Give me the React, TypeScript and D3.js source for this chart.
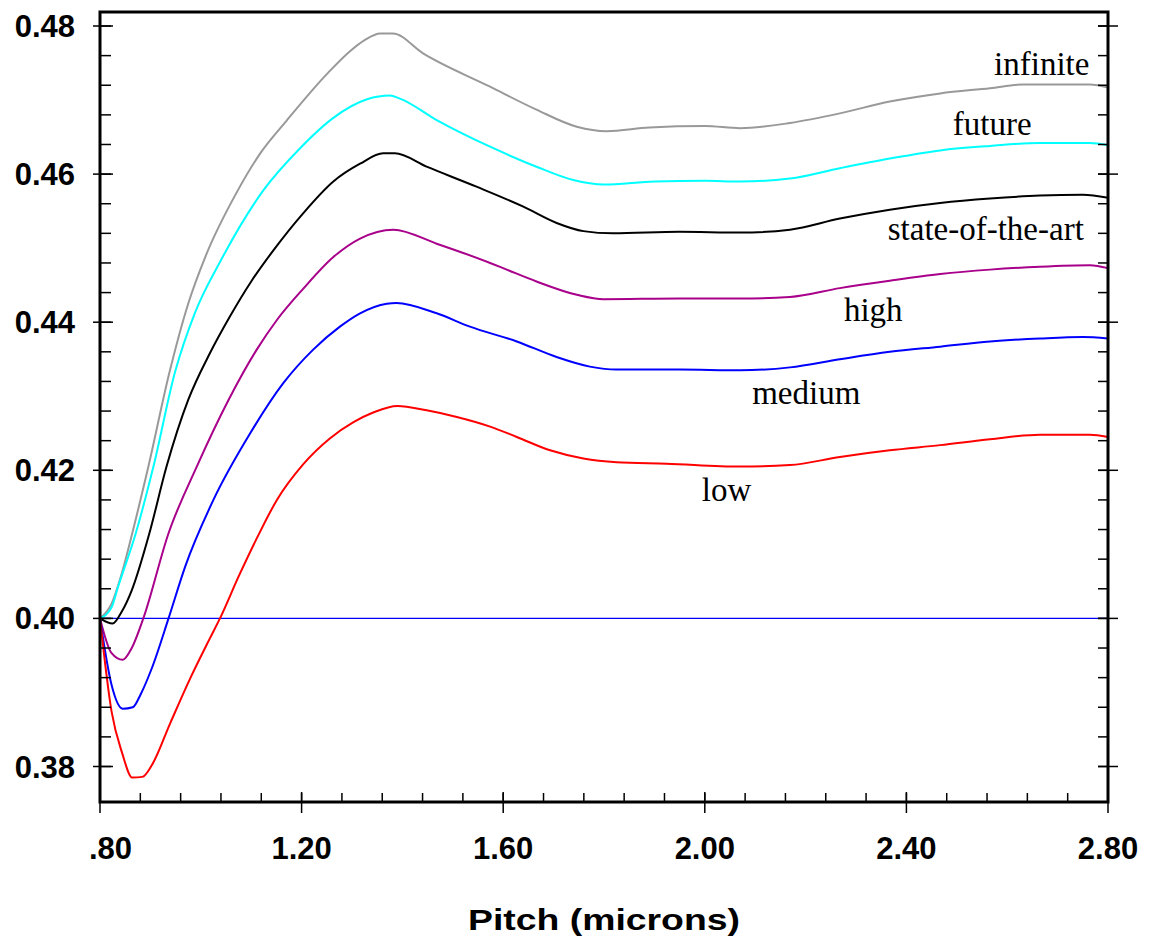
import React from "react";
import * as d3 from "d3";

type Pt = [number, number];

const infinite: Pt[] = [
  [0.8, 0.4], [0.823, 0.402], [0.845, 0.4065], [0.864, 0.4115], [0.896, 0.4205], [0.937, 0.433],
  [0.975, 0.4425], [1.01, 0.449], [1.071, 0.4575], [1.12, 0.463], [1.17, 0.4672], [1.25, 0.4735],
  [1.296, 0.4766], [1.325, 0.4781], [1.356, 0.479], [1.381, 0.479], [1.441, 0.4763], [1.574, 0.4718],
  [1.666, 0.4687], [1.746, 0.4664], [1.805, 0.4658], [1.89, 0.4663], [2.0, 0.4665], [2.07, 0.4662],
  [2.169, 0.4669], [2.268, 0.4682], [2.367, 0.4698], [2.467, 0.4709], [2.566, 0.4716], [2.631, 0.4721],
  [2.764, 0.4721], [2.8, 0.4717],
];
const future: Pt[] = [
  [0.8, 0.4], [0.823, 0.4015], [0.836, 0.4043], [0.871, 0.4115], [0.906, 0.4205], [0.949, 0.4333],
  [0.988, 0.4412], [1.041, 0.4485], [1.124, 0.4578], [1.197, 0.4635], [1.263, 0.4676], [1.33, 0.4701],
  [1.375, 0.4706], [1.395, 0.4702], [1.468, 0.4673], [1.574, 0.4637], [1.666, 0.461], [1.739, 0.4592],
  [1.799, 0.4586], [1.9, 0.459], [2.0, 0.4591], [2.07, 0.459], [2.169, 0.4594], [2.268, 0.4608],
  [2.367, 0.4621], [2.467, 0.4632], [2.566, 0.4638], [2.665, 0.4642], [2.764, 0.4642], [2.8, 0.4639],
];
const stateOfTheArt: Pt[] = [
  [0.8, 0.4], [0.825, 0.3993], [0.843, 0.4009], [0.863, 0.4038], [0.898, 0.4115], [0.932, 0.4205],
  [0.975, 0.4295], [1.018, 0.4358], [1.058, 0.4408], [1.1, 0.4455], [1.144, 0.4497], [1.203, 0.4547],
  [1.263, 0.459], [1.316, 0.4614], [1.362, 0.4628], [1.385, 0.4628], [1.448, 0.461], [1.547, 0.4583],
  [1.64, 0.4556], [1.706, 0.4534], [1.759, 0.4523], [1.818, 0.452], [1.95, 0.4522], [2.07, 0.4521],
  [2.169, 0.4525], [2.268, 0.454], [2.367, 0.4552], [2.467, 0.4561], [2.566, 0.4567], [2.665, 0.4571],
  [2.75, 0.4572], [2.8, 0.4568],
];
const high: Pt[] = [
  [0.8, 0.4], [0.823, 0.3953], [0.845, 0.3944], [0.863, 0.396], [0.886, 0.4], [0.936, 0.4115],
  [0.992, 0.4205], [1.055, 0.4295], [1.111, 0.4363], [1.151, 0.4403], [1.203, 0.4445], [1.263, 0.4488],
  [1.316, 0.4513], [1.382, 0.4525], [1.468, 0.4506], [1.574, 0.448], [1.607, 0.4471], [1.666, 0.4455],
  [1.746, 0.4437], [1.799, 0.4431], [1.95, 0.4432], [2.07, 0.4432], [2.169, 0.4434], [2.268, 0.4446],
  [2.367, 0.4456], [2.467, 0.4465], [2.566, 0.4471], [2.665, 0.4475], [2.764, 0.4477], [2.8, 0.4473],
];
const medium: Pt[] = [
  [0.8, 0.4], [0.823, 0.391], [0.845, 0.3878], [0.865, 0.388], [0.881, 0.3898], [0.903, 0.3933],
  [0.936, 0.4], [0.969, 0.407], [1.025, 0.416], [1.098, 0.425], [1.164, 0.4318], [1.223, 0.4363],
  [1.276, 0.4394], [1.316, 0.4412], [1.369, 0.4425], [1.388, 0.4426], [1.468, 0.4412], [1.534, 0.4394],
  [1.627, 0.4374], [1.706, 0.4353], [1.772, 0.434], [1.825, 0.4336], [1.95, 0.4336], [2.07, 0.4335],
  [2.169, 0.4339], [2.268, 0.435], [2.367, 0.436], [2.467, 0.4367], [2.566, 0.4374], [2.665, 0.4378],
  [2.75, 0.438], [2.8, 0.4378],
];
const low: Pt[] = [
  [0.8, 0.4], [0.823, 0.3874], [0.844, 0.3818], [0.864, 0.3785], [0.884, 0.3786], [0.903, 0.3802],
  [0.939, 0.3858], [0.979, 0.3919], [1.018, 0.3973], [1.038, 0.4], [1.076, 0.4058], [1.111, 0.4108],
  [1.151, 0.416], [1.203, 0.4208], [1.256, 0.4243], [1.303, 0.4265], [1.342, 0.4278], [1.39, 0.4287],
  [1.448, 0.4281], [1.508, 0.4272], [1.574, 0.4259], [1.627, 0.4245], [1.693, 0.4227], [1.759, 0.4216],
  [1.825, 0.4211], [1.924, 0.4209], [2.07, 0.4205], [2.169, 0.4207], [2.268, 0.4218], [2.367, 0.4227],
  [2.467, 0.4234], [2.566, 0.4242], [2.665, 0.4248], [2.764, 0.4248], [2.8, 0.4245],
];

const seriesNames = ["infinite", "future", "state-of-the-art", "high", "medium", "low"];
const seriesData = [infinite, future, stateOfTheArt, high, medium, low];
const seriesColors = ["#999999", "#00FFFF", "#000000", "#A8008A", "#0000FF", "#FF0000"];
// label anchor positions in data units (x start, y baseline)
const labelPos: Pt[] = [
  [2.574, 0.4734], [2.492, 0.4653], [2.363, 0.4511], [2.276, 0.4401], [2.094, 0.429], [1.994, 0.4158],
];

const xTickValues = [0.8, 1.2, 1.6, 2.0, 2.4, 2.8];
const xTickLabels = [".80", "1.20", "1.60", "2.00", "2.40", "2.80"];
const yTickValues = [0.38, 0.4, 0.42, 0.44, 0.46, 0.48];
const yTickLabels = ["0.38", "0.40", "0.42", "0.44", "0.46", "0.48"];
const xTitle = "Pitch (microns)";

export default function App() {
  const left = 100, right = 1108, top = 12, bottom = 802;
  const x = d3.scaleLinear().domain([0.8, 2.8]).range([left, right]);
  const y = d3.scaleLinear().domain([0.38, 0.48]).range([766.5, 26]);
  const line = d3.line<Pt>().x((d) => x(d[0])).y((d) => y(d[1])).curve(d3.curveMonotoneX);

  const yMinor = d3.range(0, 26).map((i) => 0.38 + i * 0.004).filter((v) => v <= 0.4801);
  const xMinor = d3.range(0, 26).map((i) => 0.8 + i * 0.08).filter((v) => v <= 2.801);

  const sans = "'Liberation Sans', Arial, Helvetica, sans-serif";
  const serif = "'Liberation Serif', 'Times New Roman', Times, serif";

  return (
    <svg width={1152} height={942} style={{ position: "absolute", left: 0, top: 0, background: "#fff" }}>
      <rect x={0} y={0} width={1152} height={942} fill="#fff" />
      {/* 0.40 reference line */}
      <line x1={left} x2={right} y1={y(0.4)} y2={y(0.4)} stroke="#0000FF" strokeWidth={1.2} />
      {/* series */}
      {seriesData.map((d, i) => (
        <path key={seriesNames[i]} d={line(d) || ""} fill="none" stroke={seriesColors[i]} strokeWidth={2} strokeLinejoin="round" />
      ))}
      {/* frame */}
      <rect x={left} y={top} width={right - left} height={bottom - top} fill="none" stroke="#000" strokeWidth={3} />
      {/* y minor ticks */}
      {yMinor.map((v, i) => (
        <g key={"ym" + i}>
          <line x1={left} x2={left + 11} y1={y(v)} y2={y(v)} stroke="#000" strokeWidth={1.5} />
          <line x1={right - 10} x2={right} y1={y(v)} y2={y(v)} stroke="#000" strokeWidth={1.5} />
        </g>
      ))}
      {/* y major ticks */}
      {yTickValues.map((v, i) => (
        <g key={"yM" + i}>
          <line x1={left - 7} x2={left + 13} y1={y(v)} y2={y(v)} stroke="#000" strokeWidth={1.5} />
          <line x1={right - 10} x2={right + 10} y1={y(v)} y2={y(v)} stroke="#000" strokeWidth={1.5} />
          <text x={75} y={y(v) + 11} textAnchor="end" fontFamily={sans} fontWeight="bold" fontSize={31} fill="#000">
            {yTickLabels[i]}
          </text>
        </g>
      ))}
      {/* x minor ticks */}
      {xMinor.map((v, i) => (
        <line key={"xm" + i} x1={x(v)} x2={x(v)} y1={bottom - 9} y2={bottom} stroke="#000" strokeWidth={1.5} />
      ))}
      {/* x major ticks */}
      {xTickValues.map((v, i) => (
        <g key={"xM" + i}>
          <line x1={x(v)} x2={x(v)} y1={bottom - 10} y2={bottom + 11} stroke="#000" strokeWidth={1.5} />
          <text
            x={i === 0 ? x(v) + 32 : x(v)}
            y={859}
            textAnchor={i === 0 ? "end" : "middle"}
            fontFamily={sans}
            fontWeight="bold"
            fontSize={31}
            fill="#000"
          >
            {xTickLabels[i]}
          </text>
        </g>
      ))}
      {/* axis title */}
      <text x={(left + right) / 2} y={930} textAnchor="middle" fontFamily={sans} fontWeight="bold" fontSize={30} textLength={272} lengthAdjust="spacingAndGlyphs" fill="#000">
        {xTitle}
      </text>
      {/* series labels */}
      {seriesNames.map((n, i) => (
        <text key={"lab" + i} x={x(labelPos[i][0])} y={y(labelPos[i][1])} fontFamily={serif} fontSize={33} fill="#000">
          {n}
        </text>
      ))}
    </svg>
  );
}
